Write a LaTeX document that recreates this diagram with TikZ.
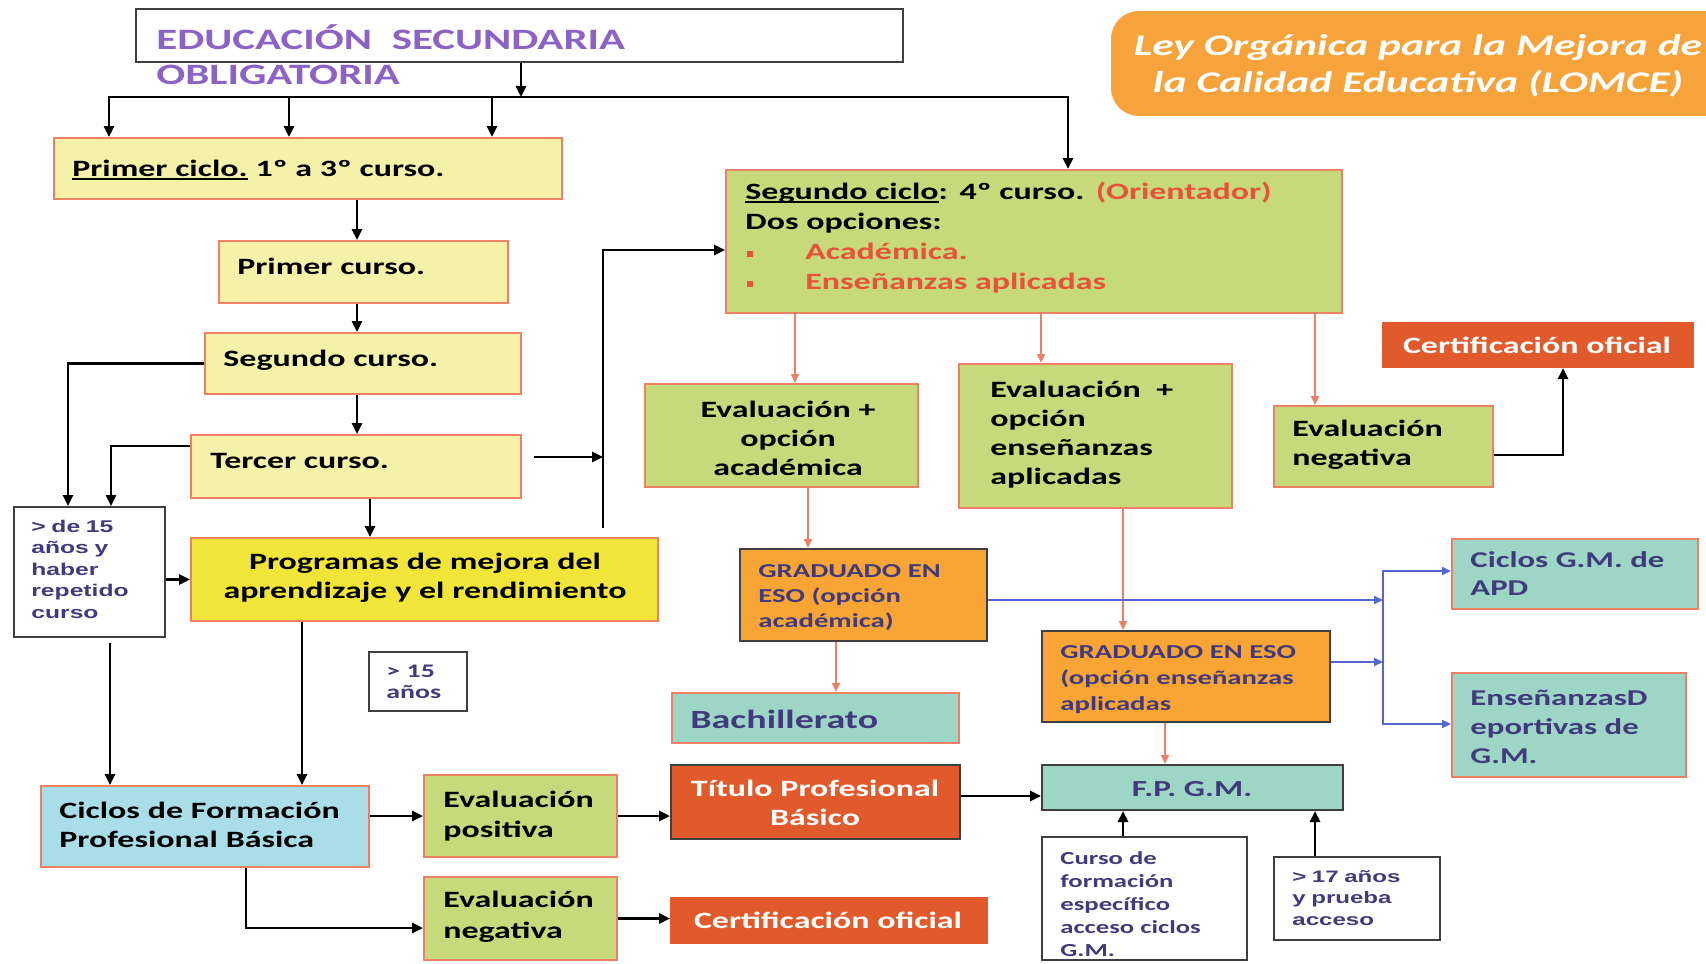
\documentclass[tikz,border=0pt]{standalone}
\usepackage{fontspec}
\newfontfamily\cb[FakeStretch=1.45]{Carlito}
\newfontfamily\ab[FakeStretch=1.45]{Liberation Sans}
\usetikzlibrary{arrows.meta,fit}
\definecolor{lyel}{HTML}{F6F1A8}
\definecolor{yel}{HTML}{F1E53A}
\definecolor{grn}{HTML}{C6DA7C}
\definecolor{salm}{HTML}{EE8063}
\definecolor{org}{HTML}{F8A535}
\definecolor{tealb}{HTML}{9ED6C6}
\definecolor{lblu}{HTML}{A9DDE7}
\definecolor{redo}{HTML}{E15A2C}
\definecolor{dblu}{HTML}{413B7E}
\definecolor{ttl}{HTML}{8C62C6}
\definecolor{redt}{HTML}{E8523A}
\definecolor{lomc}{HTML}{F6A33B}
\definecolor{bln}{HTML}{5467CC}
\definecolor{gbord}{HTML}{3F3F3F}
\newcommand\fsz[2]{\fontsize{#1pt}{#2pt}\selectfont}
\newcommand\fM{\cb\bfseries\fsz{11.7}{14.5}}
\newcommand\bul{\makebox[29pt][l]{\raisebox{1.2pt}{\rule{3pt}{3pt}}}}
\newsavebox\ulbox
\newcommand\ulx[1]{\sbox\ulbox{#1}\rlap{\rule[-1.8pt]{\wd\ulbox}{0.7pt}}\usebox\ulbox}
\tikzset{
  box/.style={draw=salm, line width=1pt, inner sep=0pt},
  dbox/.style={draw=gbord, line width=1pt, inner sep=0pt},
  tx/.style={inner sep=0pt, anchor=base west, align=left, text width=300pt},
  txc/.style={inner sep=0pt, anchor=base, align=center, text width=300pt},
  ln/.style={line width=1.3pt},
  arr/.style={line width=1.3pt, -{Triangle[length=5.5pt,width=5pt]}},
  arrs/.style={draw=salm, line width=1pt, -{Triangle[length=4.5pt,width=4pt]}},
  arrb/.style={draw=bln, line width=1pt, -{Triangle[length=4.5pt,width=4pt]}},
}
\begin{document}
\begin{tikzpicture}[x=0.5pt,y=-0.5pt]
\useasboundingbox (0,0) rectangle (1706,963);
\fill[white] (0,0) rectangle (1706,963);

% ---------- boxes ----------
\node[dbox, line width=0.8pt, fill=white, fit={(136,9) (903,62)}] (eso) {};
\node[fill=lomc, rounded corners=14pt, inner sep=0pt, fit={(1111,11) (1745,116)}] (lomce) {};
\node[box, fill=lyel, fit={(54,138) (562,199)}] (pci) {};
\node[box, fill=lyel, fit={(219,241) (508,303)}] (pcu) {};
\node[box, fill=lyel, fit={(205,333) (521,394)}] (scu) {};
\node[box, fill=lyel, fit={(191,435) (521,498)}] (tcu) {};
\node[box, fill=yel, fit={(191,538) (658,621)}] (prog) {};
\node[dbox, fill=white, fit={(14,507) (165,637)}] (d15) {};
\node[box, fill=grn, fit={(726,170) (1342,313)}] (sci) {};
\node[box, fill=grn, fit={(645,384) (918,487)}] (eac) {};
\node[box, fill=grn, fit={(959,364) (1232,508)}] (ens) {};
\node[box, fill=grn, fit={(1274,406) (1493,487)}] (eng) {};
\node[box, draw=redo, fill=redo, fit={(1383,323) (1693,367)}] (cer1) {};
\node[dbox, fill=org, fit={(740,549) (987,641)}] (gac) {};
\node[dbox, fill=org, fit={(1042,631) (1330,722)}] (gap) {};
\node[box, fill=tealb, fit={(1452,539) (1698,609)}] (apd) {};
\node[box, fill=tealb, fit={(1452,673) (1686,777)}] (edp) {};
\node[box, fill=tealb, fit={(672,693) (959,743)}] (bac) {};
\node[dbox, fill=white, fit={(369,652) (467,711)}] (a15) {};
\node[box, fill=lblu, fit={(41,786) (369,867)}] (fpb) {};
\node[box, fill=grn, fit={(424,775) (617,857)}] (epo) {};
\node[dbox, fill=redo, fit={(671,765) (960,839)}] (tit) {};
\node[dbox, fill=tealb, fit={(1042,765) (1343,810)}] (fpg) {};
\node[box, fill=grn, fit={(424,877) (617,960)}] (eng2) {};
\node[box, draw=redo, fill=redo, fit={(671,898) (987,943)}] (cer2) {};
\node[dbox, fill=white, fit={(1042,837) (1247,960)}] (cur) {};
\node[dbox, fill=white, fit={(1274,857) (1440,940)}] (a17) {};

% ---------- coordinates ----------
\coordinate (hA) at (521,97);
\coordinate (hL) at (109,97);
\coordinate (h2) at (289,97);
\coordinate (h3) at (492,97);
\coordinate (hR) at (1068,97);
\coordinate (x357) at (357,0);
\coordinate (x370) at (370,0);
\coordinate (x68) at (68,0);
\coordinate (x111) at (111,0);
\coordinate (y446) at (0,446);
\coordinate (ta) at (534,457);
\coordinate (v1) at (603,528);
\coordinate (v2) at (603,250);
\coordinate (x110) at (110,0);
\coordinate (x302) at (302,0);
\coordinate (y796) at (0,796);
\coordinate (x246) at (246,0);
\coordinate (y928) at (0,928);
\coordinate (x1123) at (1123,0);
\coordinate (x1315) at (1315,0);
\coordinate (y455) at (0,455);
\coordinate (x1563) at (1563,0);
\coordinate (x795) at (795,0);
\coordinate (x1041) at (1041,0);
\coordinate (x808) at (808,0);
\coordinate (x836) at (836,0);
\coordinate (x1165) at (1165,0);
\coordinate (bt) at (1383,571);
\coordinate (bb) at (1383,724);
\coordinate (y600) at (0,600);
\coordinate (y662) at (0,662);

% ---------- black connectors ----------
\draw[arr] (eso.south -| hA) -- (hA);
\draw[arr] (hA) -| (pci.north -| hL);
\draw[arr] (hA) -| (sci.north -| hR);
\draw[arr] (h2) -- (pci.north -| h2);
\draw[arr] (h3) -- (pci.north -| h3);
\draw[arr] (pci.south -| x357) -- (pcu.north -| x357);
\draw[arr] (pcu.south -| x357) -- (scu.north -| x357);
\draw[arr] (scu.south -| x357) -- (tcu.north -| x357);
\draw[arr] (tcu.south -| x370) -- (prog.north -| x370);
\draw[arr] (scu.west) -| (d15.north -| x68);
\draw[arr] (tcu.west |- y446) -| (d15.north -| x111);
\draw[arr] (d15.east |- prog.west) -- (prog.west);
\draw[arr] (ta) -- (ta -| v1);
\draw[arr] (v1) -- (v2) -- (sci.west |- v2);
\draw[arr, shorten <=2.5pt] (d15.south -| x110) -- (fpb.north -| x110);
\draw[arr] (prog.south -| x302) -- (fpb.north -| x302);
\draw[arr] (fpb.east |- epo.west) -- (epo.west);
\draw[arr] (epo.east) -- (tit.west |- epo.east);
\draw[arr] (tit.east |- y796) -- (fpg.west |- y796);
\draw[arr] (fpb.south -| x246) |- (eng2.west |- y928);
\draw[arr] (eng2.east) -- (cer2.west |- eng2.east);
\draw[arr] (cur.north -| x1123) -- (fpg.south -| x1123);
\draw[arr] (a17.north -| x1315) -- (fpg.south -| x1315);
\draw[arr] (eng.east |- y455) -| (cer1.south -| x1563);

% ---------- salmon connectors ----------
\draw[arrs] (sci.south -| x795) -- (eac.north -| x795);
\draw[arrs] (sci.south -| x1041) -- (ens.north -| x1041);
\draw[arrs] (sci.south -| x1315) -- (eng.north -| x1315);
\draw[arrs] (eac.south -| x808) -- (gac.north -| x808);
\draw[arrs] (ens.south -| x1123) -- (gap.north -| x1123);
\draw[arrs] (gac.south -| x836) -- (bac.north -| x836);
\draw[arrs] (gap.south -| x1165) -- (fpg.north -| x1165);

% ---------- blue connectors ----------
\draw[arrb] (bb) -- (bt) -- (apd.west |- bt);
\draw[arrb] (bt) -- (bb) -- (edp.west |- bb);
\draw[arrb] (gac.east |- y600) -- (bt |- y600);
\draw[arrb] (gap.east |- y662) -- (bt |- y662);

% ---------- texts ----------
\node[tx, font={\cb\bfseries\fsz{14.8}{17.5}}, text=ttl] (teso) at (156,50) {EDUCACIÓN\ \ SECUNDARIA\\OBLIGATORIA};
\node[txc, font={\cb\bfseries\itshape\fsz{15}{18.5}}, text=white] (tlomce) at (1418,56) {Ley Orgánica para la Mejora de\\la Calidad Educativa (LOMCE)};
\node[tx, font=\fM] (tpci) at (72,176) {\ulx{Primer ciclo.}\ 1º a 3º curso.};
\node[tx, font=\fM] (tpcu) at (237,274) {Primer curso.};
\node[tx, font=\fM] (tscu) at (223,366) {Segundo curso.};
\node[tx, font=\fM] (ttcu) at (210,468) {Tercer curso.};
\node[txc, font=\fM] (tprog) at (425,569) {Programas de mejora del\\aprendizaje y el rendimiento};
\node[tx, font={\ab\bfseries\fsz{8.5}{10.8}}, text=dblu] (td15) at (31,532) {> de 15\\años y\\haber\\repetido\\curso};
\node[tx, font={\cb\bfseries\fsz{11.7}{15}}] (tsci) at (745,199) {\ulx{Segundo ciclo}: 4º curso. {\color{redt}(Orientador)}\\Dos opciones:\\{\color{redt}\hspace{1pt}\bul Académica.}\\{\color{redt}\hspace{1pt}\bul Enseñanzas aplicadas}};
\node[txc, font=\fM] (teac) at (788,417) {Evaluación +\\opción\\académica};
\node[tx, font=\fM] (tens) at (990,397) {Evaluación\ \ +\\opción\\enseñanzas\\aplicadas};
\node[tx, font=\fM] (teng) at (1292,436) {Evaluación\\negativa};
\node[txc, font=\fM, text=white] (tcer1) at (1537,353) {Certificación oficial};
\node[tx, font={\cb\bfseries\fsz{9.9}{12.5}}, text=dblu] (tgac) at (758,577) {GRADUADO EN\\ESO (opción\\académica)};
\node[tx, font={\cb\bfseries\fsz{9.9}{13}}, text=dblu] (tgap) at (1060,658) {GRADUADO EN ESO\\(opción enseñanzas\\aplicadas};
\node[tx, font={\cb\bfseries\fsz{11.3}{14}}, text=dblu] (tapd) at (1470,567) {Ciclos G.M. de\\APD};
\node[tx, font={\cb\bfseries\fsz{11.3}{14.5}}, text=dblu] (tedp) at (1470,705) {EnseñanzasD\\eportivas de\\G.M.};
\node[tx, font={\cb\bfseries\fsz{13.1}{15}}, text=dblu] (tbac) at (690,728) {Bachillerato};
\node[tx, font={\cb\bfseries\fsz{9.6}{10.5}}, text=dblu] (ta15) at (386,677) {> 15\\años};
\node[tx, font=\fM] (tfpb) at (59,818) {Ciclos de Formación\\Profesional Básica};
\node[tx, font={\cb\bfseries\fsz{11.7}{15}}] (tepo) at (443,807) {Evaluación\\positiva};
\node[txc, font=\fM, text=white] (ttit) at (815,796) {Título Profesional\\Básico};
\node[txc, font={\cb\bfseries\fsz{11.5}{14}}, text=dblu] (tfpg) at (1192,796) {F.P. G.M.};
\node[tx, font={\cb\bfseries\fsz{11.7}{15.5}}] (teng2) at (443,907) {Evaluación\\negativa};
\node[txc, font=\fM, text=white] (tcer2) at (828,928) {Certificación oficial};
\node[tx, font={\cb\bfseries\fsz{9.2}{11.5}}, text=dblu] (tcur) at (1060,864) {Curso de\\formación\\específico\\acceso ciclos\\G.M.};
\node[tx, font={\ab\bfseries\fsz{8.3}{10.8}}, text=dblu] (ta17) at (1292,882) {> 17 años\\y prueba\\acceso};
\end{tikzpicture}
\end{document}
